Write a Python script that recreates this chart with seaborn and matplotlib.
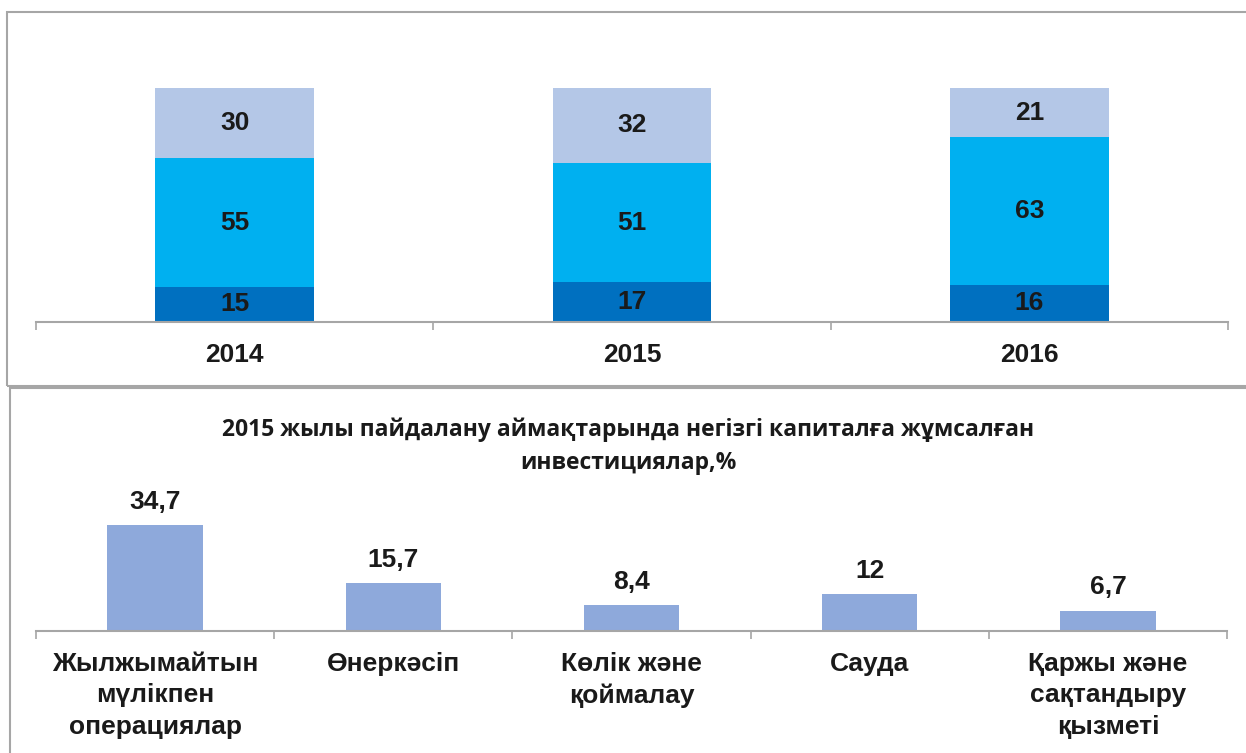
import matplotlib
matplotlib.use("Agg")
import pandas as pd
import matplotlib.pyplot as plt
import seaborn as sns
from matplotlib.patches import Rectangle

# Данные верхней диаграммы (структура, %)
years = ["2014", "2015", "2016"]
share_bottom = [15, 17, 16]
share_middle = [55, 51, 63]
share_top = [30, 32, 21]

# Данные нижней диаграммы
sectors = ["Жылжымайтын\nмүлікпен\nоперациялар", "Өнеркәсіп", "Көлік және\nқоймалау",
           "Сауда", "Қаржы және\nсақтандыру\nқызметі"]
sector_values = [34.7, 15.7, 8.4, 12, 6.7]
sector_labels = ["34,7", "15,7", "8,4", "12", "6,7"]
title_bottom = "2015 жылы пайдалану аймақтарында негізгі капиталға жұмсалған\nинвестициялар,%"

sns.set_style("white")
plt.rcParams['font.family'] = ['Liberation Sans', 'DejaVu Sans']

W, H = 1246, 753
fig = plt.figure(figsize=(W / 100, H / 100), dpi=100)
GRAY = "#A6A6A6"
TXT = "#1A1A1A"


def box(x0, y0, x1, y1):
    # пиксели -> доли фигуры (y сверху вниз)
    return [x0 / W, 1 - y1 / H, (x1 - x0) / W, (y1 - y0) / H]


# рамки панелей
fig.patches.append(Rectangle((7 / W, 1 - 386 / H), 1.2, 374 / H, transform=fig.transFigure,
                             fill=False, edgecolor=GRAY, lw=1.5))
fig.patches.append(Rectangle((10 / W, -0.2), 1.2, 1 - 388 / H + 0.2, transform=fig.transFigure,
                             fill=False, edgecolor=GRAY, lw=1.5))

# ---- верхняя диаграмма ----
df_top = pd.DataFrame({"year": years, "b": share_bottom, "m": share_middle, "t": share_top})
df_top["cum_m"] = df_top["b"] + df_top["m"]
df_top["cum_t"] = df_top["cum_m"] + df_top["t"]

ax1 = fig.add_axes(box(36, 88, 1228, 322))
for col, c in [("cum_t", "#B4C7E7"), ("cum_m", "#00B0F0"), ("b", "#0070C0")]:
    sns.barplot(data=df_top, x="year", y=col, color=c, width=0.4, saturation=1,
                edgecolor="none", ax=ax1)
for i, r in df_top.iterrows():
    for val, mid in [(r["b"], r["b"] / 2), (r["m"], r["b"] + r["m"] / 2),
                     (r["t"], r["cum_m"] + r["t"] / 2)]:
        ax1.text(i, mid, f"{val}", ha="center", va="center", fontsize=19,
                 fontweight="bold", color=TXT)
ax1.set_ylim(0, 100)
ax1.set_xlim(-0.5, 2.5)

# ---- нижняя диаграмма ----
df_bot = pd.DataFrame({"sector": sectors, "value": sector_values})
ax2 = fig.add_axes(box(36, 509, 1227, 631))
sns.barplot(data=df_bot, x="sector", y="value", color="#8EA9DB", width=0.4, saturation=1,
            edgecolor="none", ax=ax2)
for i, (v, lab) in enumerate(zip(sector_values, sector_labels)):
    ax2.annotate(lab, (i, v), xytext=(0, 8), textcoords="offset points", ha="center",
                 va="bottom", fontsize=19, fontweight="bold", color=TXT, annotation_clip=False)
ax2.set_ylim(0, 40)
ax2.set_xlim(-0.5, 4.5)

for ax, n in [(ax1, 3), (ax2, 5)]:
    ax.set_xlabel("")
    ax.set_ylabel("")
    ax.set_yticks([])
    for s in ["top", "left", "right"]:
        ax.spines[s].set_visible(False)
    ax.spines["bottom"].set_color(GRAY)
    ax.spines["bottom"].set_linewidth(1.5)
    ax.set_xticks([k - 0.5 for k in range(n + 1)], minor=True)
    ax.tick_params(axis="x", which="minor", bottom=True, length=6, width=1.2, color=GRAY,
                   direction="out")
    ax.tick_params(axis="x", which="major", length=0)
    ax.patch.set_alpha(0)

ax1.tick_params(axis="x", which="major", pad=15, labelsize=19)
for t in ax1.get_xticklabels():
    t.set_fontweight("bold")
    t.set_color(TXT)

ax2.tick_params(axis="x", which="major", pad=15, labelsize=19)
for t in ax2.get_xticklabels():
    t.set_fontweight("bold")
    t.set_color(TXT)
    t.set_linespacing(1.4)

fig.text(628 / W, 1 - 446 / H, title_bottom, ha="center", va="center", fontsize=16.5,
         fontweight="bold", color=TXT, family=["Open Sans", "DejaVu Sans"], linespacing=1.5)

fig.savefig("out.png", dpi=100)
